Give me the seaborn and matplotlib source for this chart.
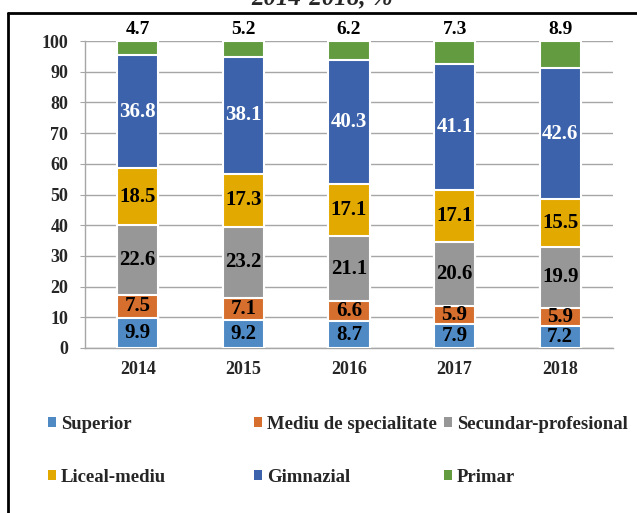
import numpy as np
import pandas as pd
import matplotlib
matplotlib.use("Agg")
import matplotlib.pyplot as plt
from matplotlib.lines import Line2D
from matplotlib.patches import Patch
import seaborn as sns

years = ["2014", "2015", "2016", "2017", "2018"]
categories = ["Superior", "Mediu de specialitate", "Secundar-profesional",
              "Liceal-mediu", "Gimnazial", "Primar"]
superior = [9.9, 9.2, 8.7, 7.9, 7.2]
mediu_spec = [7.5, 7.1, 6.6, 5.9, 5.9]
secundar = [22.6, 23.2, 21.1, 20.6, 19.9]
liceal = [18.5, 17.3, 17.1, 17.1, 15.5]
gimnazial = [36.8, 38.1, 40.3, 41.1, 42.6]
primar = [4.7, 5.2, 6.2, 7.3, 8.9]
colors = ["#4F8AC5", "#D66F2D", "#979797", "#E2A900", "#3B62AA", "#629B40"]
label_colors = ["black", "black", "black", "black", "white", "black"]

sns.set_style("white")
plt.rcParams["font.family"] = ["Liberation Serif", "DejaVu Serif"]
plt.rcParams["font.weight"] = "bold"

df = pd.DataFrame(
    [superior, mediu_spec, secundar, liceal, gimnazial, primar],
    index=categories, columns=years,
).T
cum = df.cumsum(axis=1)

fig = plt.figure(figsize=(6.37, 5.13), dpi=100)
ax = fig.add_axes([85 / 637, 1 - 348 / 513, 528 / 637, 307 / 513])

# stacked bars: draw cumulative heights from the top segment down
for cat, col in reversed(list(zip(categories, colors))):
    sns.barplot(x=years, y=cum[cat].values, color=col, width=0.39,
                edgecolor="white", linewidth=1.5, saturation=1, ax=ax, zorder=3)

# value labels
for i, yr in enumerate(years):
    for cat, lc in zip(categories, label_colors):
        v = df.loc[yr, cat]
        if cat == "Primar":
            ax.text(i, 101.0, f"{v:.1f}", ha="center", va="bottom",
                    fontsize=14, fontweight="bold", color="black", clip_on=False)
        else:
            ax.text(i, cum.loc[yr, cat] - v / 2, f"{v:.1f}", ha="center",
                    va="center", fontsize=15, fontweight="bold", color=lc, zorder=5)

ax.set_ylim(0, 100)
ax.set_xlim(-0.5, 4.5)
ax.set_yticks(np.arange(0, 101, 10))
ax.yaxis.grid(True, color="#A6A6A6", linewidth=1)
ax.set_axisbelow(True)
for s in ["top", "right"]:
    ax.spines[s].set_visible(False)
for s in ["left", "bottom"]:
    ax.spines[s].set_color("#A6A6A6")
    ax.spines[s].set_linewidth(1)
ax.set_xticks(np.arange(-0.5, 4.6, 1), minor=True)
ax.tick_params(axis="x", which="major", length=0, pad=9, labelsize=13)
ax.tick_params(axis="x", which="minor", length=3.6, color="#A6A6A6", direction="out")
ax.tick_params(axis="y", length=3.6, color="#A6A6A6", pad=8.5, labelsize=13, left=True)
for lab in ax.get_xticklabels() + ax.get_yticklabels():
    lab.set_fontweight("bold")
ax.set_xlabel("")
ax.set_ylabel("")

# legend in three columns, placed by hand
cols = [(0, 3), (1, 4), (2, 5)]
xs = [48 / 637, 254 / 637, 444 / 637]
for x0, (a, b) in zip(xs, cols):
    handles = [Patch(facecolor=colors[k], edgecolor="none") for k in (a, b)]
    fig.legend(handles, [categories[a], categories[b]], loc="upper left",
               bbox_to_anchor=(x0, 1 - 416 / 513), frameon=False,
               prop={"weight": "bold", "size": 13.5}, handlelength=0.45,
               handleheight=0.45, handletextpad=0.25, labelspacing=1.9,
               borderpad=0, borderaxespad=0)

# frame (top and left visible) and clipped title
fig.add_artist(Line2D([8 / 637, 8 / 637], [0, 1 - 13 / 513], color="black",
                      linewidth=2, transform=fig.transFigure))
fig.add_artist(Line2D([8 / 637, 1], [1 - 13 / 513, 1 - 13 / 513], color="black",
                      linewidth=2, transform=fig.transFigure))
fig.text(322 / 637, 1 - 4 / 513, "2014-2018, %", ha="center", va="baseline",
         fontsize=18, fontweight="bold", fontstyle="italic")

fig.savefig("out.png", dpi=100)
